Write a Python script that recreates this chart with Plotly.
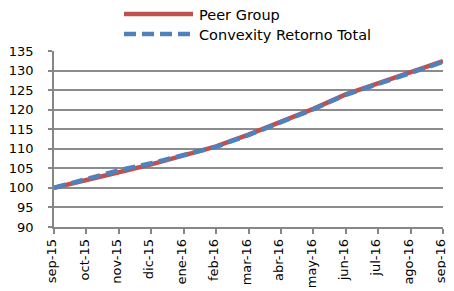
import plotly.graph_objects as go

months = ["sep-15", "oct-15", "nov-15", "dic-15", "ene-16", "feb-16", "mar-16",
          "abr-16", "may-16", "jun-16", "jul-16", "ago-16", "sep-16"]
peer_group = [100.0, 101.9, 104.0, 106.0, 108.2, 110.6, 113.6, 116.9, 120.2, 123.9, 126.7, 129.5, 132.4]
convexity = [100.0, 102.3, 104.5, 106.3, 108.4, 110.5, 113.5, 116.8, 120.1, 123.8, 126.6, 129.4, 132.2]
y_ticks = [90, 95, 100, 105, 110, 115, 120, 125, 130, 135]

# page body has an 8px default margin: size the figure so the plot lands where the reference has it
OFF = 8
W, H = 454 - OFF, 291 - OFF
ML, MR, MT, MB = 54 - OFF, 11, 51 - OFF, 64

fig = go.Figure()
fig.add_trace(go.Scatter(x=months, y=peer_group, mode="lines", name="Peer Group",
                         line=dict(color="#C0504D", width=4.5), showlegend=False))
fig.add_trace(go.Scatter(x=months, y=convexity, mode="lines", name="Convexity Retorno Total",
                         line=dict(color="#4F81BD", width=4.5, dash="12px,6px"), showlegend=False))

font = dict(family="DejaVu Sans", size=13, color="#000000")

def px_x(x):
    return (x - OFF - ML) / (W - ML - MR)

def px_y(y):
    return 1 - (y - OFF - MT) / (H - MT - MB)

legend_items = [("Peer Group", "#C0504D", False, 15), ("Convexity Retorno Total", "#4F81BD", True, 35)]
for label, color, dashed, yy in legend_items:
    fig.add_shape(type="line", xref="paper", yref="paper",
                  x0=px_x(124), x1=px_x(193), y0=px_y(yy - 1), y1=px_y(yy - 1),
                  line=dict(color=color, width=4.5, dash="12px,6px" if dashed else "solid"))
    fig.add_annotation(xref="paper", yref="paper", x=px_x(198), y=px_y(yy),
                       text=label, showarrow=False, xanchor="left", yanchor="middle",
                       borderpad=0,
                       font=dict(family="DejaVu Sans", size=14.5, color="#000000"))

fig.update_layout(
    width=W, height=H,
    margin=dict(l=ML, r=MR, t=MT, b=MB, autoexpand=False),
    paper_bgcolor="white", plot_bgcolor="white",
    font=font,
    showlegend=False,
)
fig.update_xaxes(type="category", range=[0, 12], tickangle=-90, automargin=False,
                 showline=True, linecolor="#868686", linewidth=1.5,
                 ticks="outside", ticklen=5, tickcolor="#868686", tickwidth=1.5,
                 ticklabelshift=-2,
                 showgrid=False, tickfont=font, zeroline=False)
fig.update_yaxes(range=[90, 135], tickvals=y_ticks, automargin=False,
                 showline=True, linecolor="#868686", linewidth=1.5,
                 ticks="outside", ticklen=4, tickcolor="#868686", tickwidth=1.5,
                 ticklabelstandoff=12,
                 showgrid=True, gridcolor="#8C8C8C", gridwidth=1.5,
                 tickfont=font, zeroline=False)

fig.write_html("out.html")
